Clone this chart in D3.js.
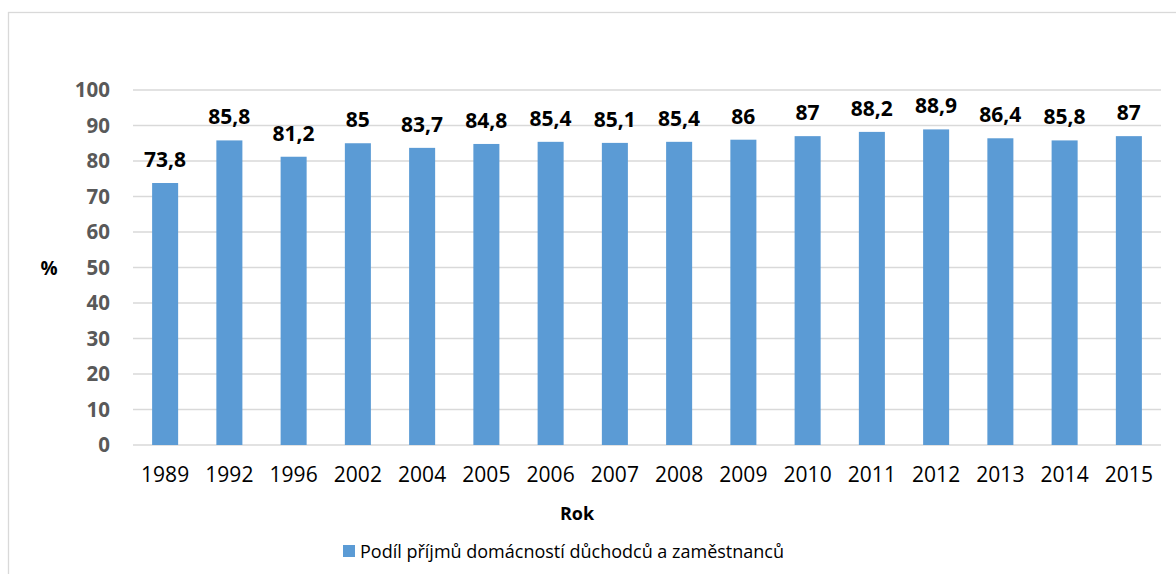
<!DOCTYPE html>
<html><head><meta charset="utf-8">
<script src="https://cdn.jsdelivr.net/npm/d3@7"></script>
<style>body{margin:0;background:#fff;} text{font-family:"Open Sans",sans-serif;}</style>
</head><body>
<svg id="c" width="1176" height="574"></svg>
<script>
const years = ["1989","1992","1996","2002","2004","2005","2006","2007","2008","2009","2010","2011","2012","2013","2014","2015"];
const values = [73.8,85.8,81.2,85,83.7,84.8,85.4,85.1,85.4,86,87,88.2,88.9,86.4,85.8,87];
const yTicks = [0,10,20,30,40,50,60,70,80,90,100];
const seriesName = "Podíl příjmů domácností důchodců a zaměstnanců";
const yTitle = "%", xTitle = "Rok";

const svg = d3.select("#c");
const pL = 133, pR = 1161, pT = 90, pB = 445;
const color = "#5B9BD5";

svg.append("rect").attr("x",8.5).attr("y",12.5).attr("width",1176).attr("height",600)
  .attr("fill","none").attr("stroke","#d9d9d9").attr("stroke-width",1.3);

const x = d3.scaleBand().domain(years).range([pL,pR]).paddingInner(0.595).paddingOuter(0.2975);
const y = d3.scaleLinear().domain([0,100]).range([pB,pT]);

svg.append("g").selectAll("line").data(yTicks).join("line")
  .attr("x1",pL).attr("x2",pR).attr("y1",d=>y(d)).attr("y2",d=>y(d))
  .attr("stroke","#d9d9d9").attr("stroke-width",1.5);

const yAxis = svg.append("g").attr("transform",`translate(${pL},0)`)
  .call(d3.axisLeft(y).tickValues(yTicks).tickSize(0).tickPadding(23));
yAxis.select(".domain").remove();
yAxis.selectAll("text").attr("font-size",20.5).attr("font-weight","bold").attr("fill","#595959")
  .attr("font-family","Open Sans");

svg.append("g").selectAll("rect").data(values).join("rect")
  .attr("x",(d,i)=>x(years[i])).attr("width",x.bandwidth())
  .attr("y",d=>y(d)).attr("height",d=>y(0)-y(d)).attr("fill",color);

svg.append("g").selectAll("text").data(values).join("text")
  .attr("x",(d,i)=>x(years[i])+x.bandwidth()/2).attr("y",d=>y(d)-16)
  .attr("text-anchor","middle").attr("font-size",21).attr("font-weight","bold").attr("fill","#000")
  .text(d=>String(d).replace(".",","));

const xAxis = svg.append("g").attr("transform",`translate(0,${pB})`)
  .call(d3.axisBottom(x).tickSize(0).tickPadding(22));
xAxis.select(".domain").remove();
xAxis.selectAll("text").attr("font-size",21).attr("fill","#000").attr("font-family","Open Sans");

svg.append("text").attr("x",49).attr("y",275).attr("text-anchor","middle")
  .attr("font-size",19).attr("font-weight","bold").text(yTitle);
svg.append("text").attr("x",577).attr("y",520).attr("text-anchor","middle")
  .attr("font-size",18).attr("font-weight","bold").text(xTitle);

const lg = svg.append("g");
lg.append("rect").attr("x",343).attr("y",545).attr("width",12).attr("height",12).attr("fill",color);
lg.append("text").attr("x",360).attr("y",558).attr("font-size",18).attr("fill","#000").text(seriesName);
</script>
</body></html>
